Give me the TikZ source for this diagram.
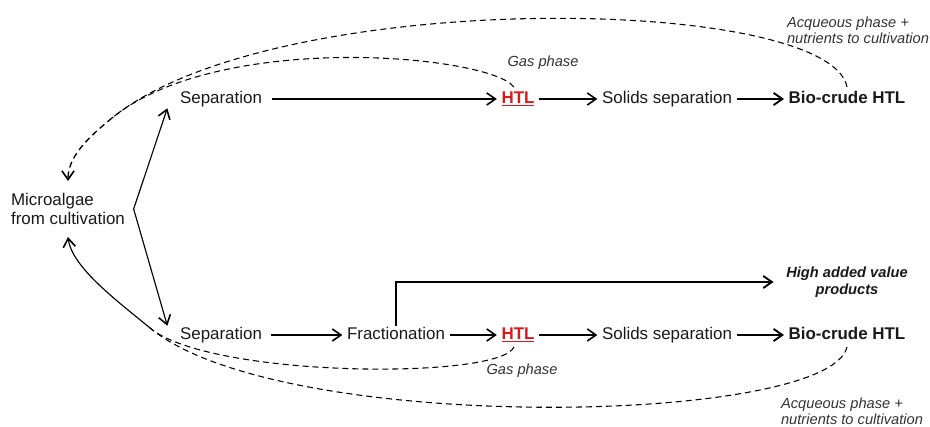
\documentclass[tikz,border=0pt]{standalone}
\usepackage{fontspec}
\setmainfont{Liberation Sans}
\usetikzlibrary{arrows.meta,positioning,calc}
\definecolor{htlred}{RGB}{222,24,24}
\tikzstyle{arrow} = [line width=0.85pt,-{Straight Barb[length=2.3mm,width=3.2mm,line width=1.2pt]}]
\tikzstyle{boldarrow} = [line width=1.5pt,-{Straight Barb[length=2.3mm,width=3.2mm,line width=1.4pt]}]
\tikzstyle{recycle} = [line width=0.8pt,dash pattern=on 4.5pt off 3pt]
\tikzstyle{stage} = [text height=1.6ex,text depth=.45ex]
\tikzstyle{note} = [font=\fontsize{11}{12.2}\selectfont\itshape,text=black!80]

\begin{document}
\begin{tikzpicture}[x=0.75pt,y=-0.75pt,font=\fontsize{12.7}{13.6}\selectfont,text=black!90]
			\useasboundingbox (0,0) rectangle (930,427);

			\node[align=left] (algae) at (68,209) {Microalgae\\from cultivation};
			\coordinate (fork) at ($(algae.east)+(4,0)$);

			% upper route
			\node[stage] (sep1) at (221,99) {Separation};
			\node[stage,text=htlred] (htl1) at (518,99) {\underline{\textbf{HTL}}};
			\node[stage] (sol1) at (667,99) {Solids separation};
			\node[stage] (bio1) at (847,99) {\textbf{Bio-crude HTL}};
			\node[note] (gas1) at (543,63) {Gas phase};
			\node[note,align=left] (aq1) at (858,30) {Acqueous phase +\\nutrients to cultivation};

			% lower route
			\node[stage] (sep2) at (221,335) {Separation};
			\node[stage] (frac) at (396,335) {Fractionation};
			\node[stage,text=htlred] (htl2) at (518,335) {\underline{\textbf{HTL}}};
			\node[stage] (sol2) at (667,335) {Solids separation};
			\node[stage] (bio2) at (847,335) {\textbf{Bio-crude HTL}};
			\node[font=\fontsize{11}{12.8}\selectfont\bfseries\itshape,align=center] (high) at (847,282) {High added value\\products};
			\node[note] (gas2) at (522,371) {Gas phase};
			\node[note,align=left] (aq2) at (852,411) {Acqueous phase +\\nutrients to cultivation};

			% where the returns meet
			\coordinate (join1) at (112,118);
			\coordinate (join2) at (150,328);

			% Arrows
			\draw[arrow] (fork) -- ([xshift=-6pt,yshift=2pt]sep1.south west);
			\draw[arrow] (fork) -- ([xshift=-6pt,yshift=-2pt]sep2.north west);

			\draw[arrow,shorten <=4pt] (sep1) -- (htl1);
			\draw[arrow] (htl1) -- (sol1);
			\draw[boldarrow] (sol1) -- (bio1);

			\draw[arrow,shorten <=3pt] (sep2) -- (frac);
			\draw[arrow] (frac) -- (htl2);
			\draw[arrow] (htl2) -- (sol2);
			\draw[boldarrow] (sol2) -- (bio2);
			\draw[boldarrow,shorten >=6pt] ([yshift=-2pt]frac.north) |- (high.west);

			% recycles
			\draw[recycle] ([xshift=-3pt]htl1.north) .. controls (490,55) and (220,30) .. (join1);
			\draw[recycle] (bio1.north) .. controls (830,-5) and (274,-14) .. (join1);
			\draw[recycle,line width=1pt,-{Straight Barb[length=2.3mm,width=3.2mm,line width=1.2pt]}] (join1) .. controls (85,140) and (68,158) .. ([yshift=6pt]algae.north);

			\draw[recycle] ([xshift=-3pt]htl2.south) .. controls (500,380) and (210,378) .. (join2);
			\draw[recycle] (bio2.south) .. controls (830,425) and (280,436) .. (join2);
			\draw[arrow] (join2) .. controls (120,303) and (72,268) .. ([yshift=-6pt]algae.south);
		\end{tikzpicture}
\end{document}
